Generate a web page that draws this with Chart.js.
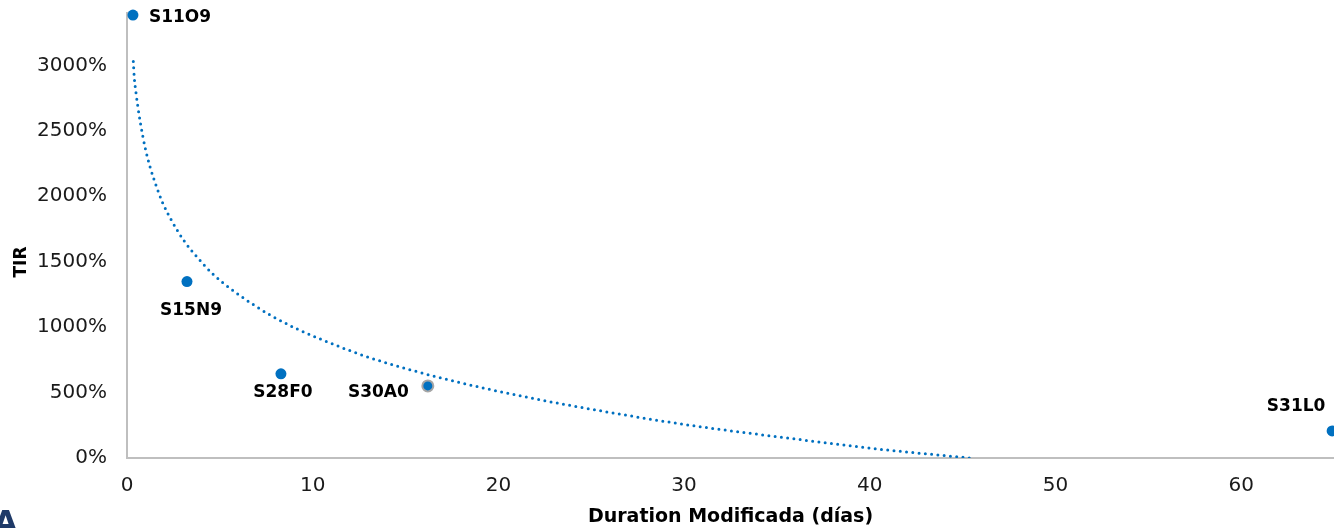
<!DOCTYPE html>
<html>
<head>
<meta charset="utf-8">
<script src="https://cdn.jsdelivr.net/npm/chart.js@4.4.0/dist/chart.umd.min.js"></script>
<style>
    html, body { margin: 0; padding: 0; background: #fff; overflow: hidden; }
    #wrap { position: relative; width: 1334px; height: 528px; }
    #logo { position: absolute; left: -6px; top: 504px; font: bold 30px "DejaVu Sans"; color: #1f3a68; }
</style>
</head>
<body>
<div id="wrap">
    <canvas id="tirChart" width="1334" height="528"></canvas>
    <div id="logo">A</div>
</div>
<script>
// letras (bonos) y sus valores
var bonos = ['S11O9', 'S15N9', 'S28F0', 'S30A0', 'S31L0'];
var duration = [0.32, 3.23, 8.29, 16.2, 64.9];
var tir = [3384, 1348, 643, 551, 207];

// linea de tendencia
var tendX = [0.34, 0.39, 0.48, 0.61, 0.74, 0.97, 1.24, 1.56, 1.92, 2.41, 3.12, 3.79, 4.65, 5.55, 6.8, 7.7, 9.14, 10.36, 12.9, 16.95, 21.88, 27.27, 30.68, 35.16, 40.55, 45.4];
var tendY = [3030, 2910, 2795, 2660, 2545, 2375, 2225, 2085, 1950, 1812, 1650, 1532, 1402, 1296, 1172, 1093, 987, 912, 775, 610, 455, 318, 243, 160, 67, 0];

var yTicks = [0, 500, 1000, 1500, 2000, 2500, 3000];
var xTicks = [0, 10, 20, 30, 40, 50, 60];

var azul = '#0070C0';

var puntos = bonos.map(function(b, i) { return { x: duration[i], y: tir[i] }; });
var tendencia = tendX.map(function(x, i) { return { x: x, y: tendY[i] }; });

// donde va cada etiqueta respecto del punto
var posEtiqueta = {
    'S11O9': { dx: 16, dy: 2, align: 'left' },
    'S15N9': { dx: 4, dy: 29, align: 'center' },
    'S28F0': { dx: 2, dy: 19, align: 'center' },
    'S30A0': { dx: -19, dy: 7, align: 'right' },
    'S31L0': { dx: -36, dy: -24, align: 'center' }
};

var etiquetas = {
    id: 'etiquetas',
    afterDatasetsDraw: function(chart) {
        var ctx = chart.ctx;
        var meta = chart.getDatasetMeta(1);
        ctx.save();
        ctx.font = 'bold 17px "DejaVu Sans"';
        ctx.fillStyle = '#000';
        ctx.textBaseline = 'middle';
        meta.data.forEach(function(p, i) {
            var pos = posEtiqueta[bonos[i]];
            ctx.textAlign = pos.align;
            ctx.fillText(bonos[i], p.x + pos.dx, p.y + pos.dy);
        });
        // titulo eje Y
        ctx.translate(22, 262);
        ctx.rotate(-Math.PI / 2);
        ctx.textAlign = 'center';
        ctx.font = 'bold 17px "DejaVu Sans"';
        ctx.fillText('TIR', 0, 0);
        ctx.restore();
    }
};

var tirChart = new Chart(document.getElementById('tirChart').getContext('2d'), {
    type: 'scatter',
    data: {
        datasets: [{
            label: 'Tendencia',
            data: tendencia,
            showLine: true,
            borderColor: azul,
            borderWidth: 3,
            borderDash: [0, 6.3],
            borderCapStyle: 'round',
            pointRadius: 0,
            cubicInterpolationMode: 'monotone',
            fill: false
        }, {
            label: 'Letras',
            data: puntos,
            backgroundColor: azul,
            borderColor: [azul, azul, azul, '#a6a6a6', azul],
            borderWidth: [0, 0, 0, 2, 0],
            pointRadius: 5.5,
            clip: false
        }]
    },
    options: {
        responsive: false,
        animation: false,
        layout: { autoPadding: false, padding: { top: 13, right: 0, left: 0, bottom: 0 } },
        plugins: {
            legend: { display: false },
            tooltip: { enabled: false }
        },
        scales: {
            x: {
                type: 'linear',
                min: 0,
                max: 65,
                afterBuildTicks: function(scale) {
                    scale.ticks = xTicks.map(function(v) { return { value: v }; });
                },
                afterFit: function(scale) {
                    scale.height = 70;
                    scale.paddingLeft = 0;
                    scale.paddingRight = 0;
                },
                grid: { display: false, drawTicks: false },
                border: { display: true, color: '#bfbfbf', width: 2 },
                ticks: {
                    padding: 16,
                    color: '#1a1a1a',
                    font: { family: 'DejaVu Sans', size: 20 }
                },
                title: {
                    display: true,
                    text: 'Duration Modificada (días)',
                    color: '#000',
                    padding: { top: 6, bottom: 0 },
                    font: { family: 'DejaVu Sans', size: 19, weight: 'bold' }
                }
            },
            y: {
                type: 'linear',
                min: 0,
                max: 3400,
                afterBuildTicks: function(scale) {
                    scale.ticks = yTicks.map(function(v) { return { value: v }; });
                },
                afterFit: function(scale) {
                    scale.width = 127;
                    scale.paddingTop = 0;
                    scale.paddingBottom = 0;
                },
                grid: { display: false, drawTicks: false },
                border: { display: true, color: '#bfbfbf', width: 2 },
                ticks: {
                    padding: 20,
                    color: '#1a1a1a',
                    font: { family: 'DejaVu Sans', size: 20 },
                    callback: function(v) { return v + '%'; }
                }
            }
        }
    },
    plugins: [etiquetas]
});
</script>
</body>
</html>
